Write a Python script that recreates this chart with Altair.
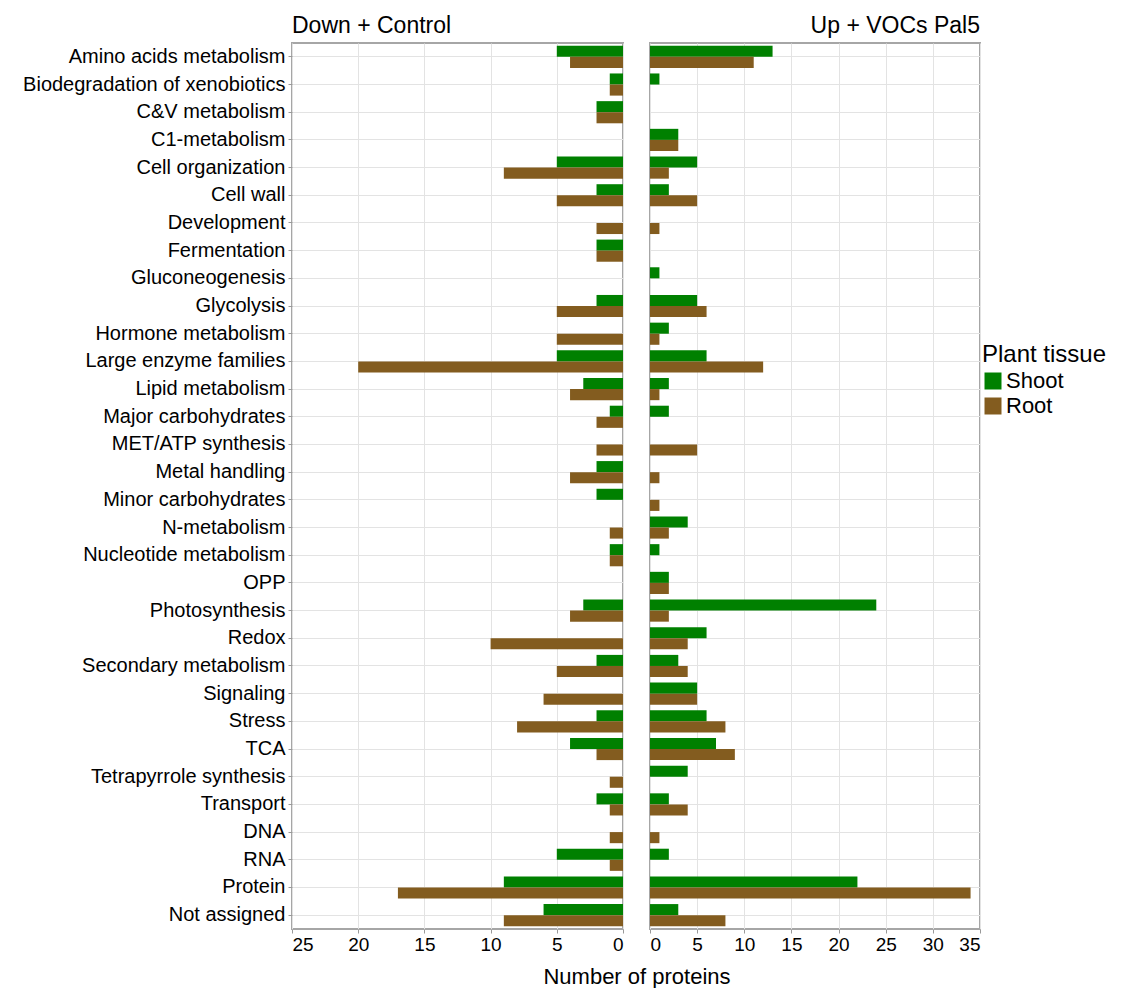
import altair as alt
import pandas as pd

categories = [
    "Amino acids metabolism", "Biodegradation of xenobiotics", "C&V metabolism",
    "C1-metabolism", "Cell organization", "Cell wall", "Development",
    "Fermentation", "Gluconeogenesis", "Glycolysis", "Hormone metabolism",
    "Large enzyme families", "Lipid metabolism", "Major carbohydrates",
    "MET/ATP synthesis", "Metal handling", "Minor carbohydrates",
    "N-metabolism", "Nucleotide metabolism", "OPP", "Photosynthesis", "Redox",
    "Secondary metabolism", "Signaling", "Stress", "TCA",
    "Tetrapyrrole synthesis", "Transport", "DNA", "RNA", "Protein",
    "Not assigned",
]
down_shoot = [5, 1, 2, 0, 5, 2, 0, 2, 0, 2, 0, 5, 3, 1, 0, 2, 2, 0, 1, 0, 3, 0, 2, 0, 2, 4, 0, 2, 0, 5, 9, 6]
down_root = [4, 1, 2, 0, 9, 5, 2, 2, 0, 5, 5, 20, 4, 2, 2, 4, 0, 1, 1, 0, 4, 10, 5, 6, 8, 2, 1, 1, 1, 1, 17, 9]
up_shoot = [13, 1, 0, 3, 5, 2, 0, 0, 1, 5, 2, 6, 2, 2, 0, 0, 0, 4, 1, 2, 24, 6, 3, 5, 6, 7, 4, 2, 0, 2, 22, 3]
up_root = [11, 0, 0, 3, 2, 5, 1, 0, 0, 6, 1, 12, 1, 0, 5, 1, 1, 2, 0, 2, 2, 4, 4, 5, 8, 9, 0, 4, 1, 0, 34, 8]
tissues = ["Shoot", "Root"]
colors = ["#008000", "#835C1F"]
down_ticks = [0, 5, 10, 15, 20, 25]
up_ticks = [0, 5, 10, 15, 20, 25, 30, 35]

def long(shoot, root):
    rows = []
    for i, c in enumerate(categories):
        rows.append({"cat": c, "tissue": "Shoot", "value": shoot[i]})
        rows.append({"cat": c, "tissue": "Root", "value": root[i]})
    return pd.DataFrame(rows)

df_down = long(down_shoot, down_root)
df_up = long(up_shoot, up_root)

FONT = "Liberation Sans"
W_L, W_R, H = 331, 330, 886
GAP = 27

color_enc = alt.Color(
    "tissue:N", sort=tissues,
    scale=alt.Scale(domain=tissues, range=colors),
    legend=alt.Legend(title="Plant tissue", titleFontSize=24, titleFontWeight="normal",
                      labelFontSize=22, symbolType="square", symbolSize=289,
                      symbolStrokeWidth=0, titleColor="black", labelColor="black",
                      titleFont=FONT, labelFont=FONT, rowPadding=3,
                      titlePadding=3, labelOffset=2, orient="none",
                      legendX=W_L + GAP + W_R + 2, legendY=300),
)
yoff = alt.YOffset("tissue:N", sort=tissues, scale=alt.Scale(paddingInner=0, paddingOuter=0))
yscale = alt.Scale(domain=categories, paddingInner=0.2, paddingOuter=0.1)

left = alt.Chart(df_down, title=alt.TitleParams(
    "Down + Control", anchor="start", frame="group", fontSize=23, fontWeight="normal",
    font=FONT, color="black", offset=5)).mark_bar().encode(
    x=alt.X("value:Q", scale=alt.Scale(domain=[0, 25], reverse=True, nice=False),
            axis=alt.Axis(values=down_ticks, title="Number of proteins",
                          titleX=W_L + GAP / 2, titleY=37, titleAlign="center",
                          titleBaseline="top",
                          titleFontSize=22, titleFontWeight="normal",
                          titleFont=FONT, titleColor="black",
                          labelFontSize=19, labelColor="black", labelFont=FONT,
                          tickColor="#999999", tickSize=4, domain=False,
                          gridColor="#E3E3E3", labelPadding=2)),
    y=alt.Y("cat:N", sort=categories, scale=yscale,
            axis=alt.Axis(title=None, labelFontSize=20, labelColor="black",
                          labelFont=FONT, tickColor="#999999", tickSize=4,
                          domain=False, grid=True, gridColor="#E3E3E3",
                          labelPadding=3, labelLimit=400)),
    yOffset=yoff,
    color=color_enc,
).properties(width=W_L, height=H)

right = alt.Chart(df_up, title=alt.TitleParams(
    "Up + VOCs Pal5", anchor="end", frame="group", fontSize=23, fontWeight="normal",
    font=FONT, color="black", offset=5)).mark_bar().encode(
    x=alt.X("value:Q", scale=alt.Scale(domain=[0, 35], nice=False),
            axis=alt.Axis(values=up_ticks, title=None,
                          labelFontSize=19, labelColor="black", labelFont=FONT,
                          tickColor="#999999", tickSize=4, domain=False,
                          gridColor="#E3E3E3", labelPadding=2)),
    y=alt.Y("cat:N", sort=categories, scale=yscale,
            axis=alt.Axis(title=None, labels=False, ticks=False, domain=False,
                          grid=True, gridColor="#E3E3E3")),
    yOffset=yoff,
    color=color_enc,
).properties(width=W_R, height=H)

chart = alt.hconcat(left, right, spacing=GAP, bounds="flush").properties(
    padding={"left": 13, "top": 6, "right": 2, "bottom": 0}
).configure_view(stroke="#A6A6A6", strokeWidth=2)

chart.save("out.html", embed_options={"renderer": "svg", "actions": False})
